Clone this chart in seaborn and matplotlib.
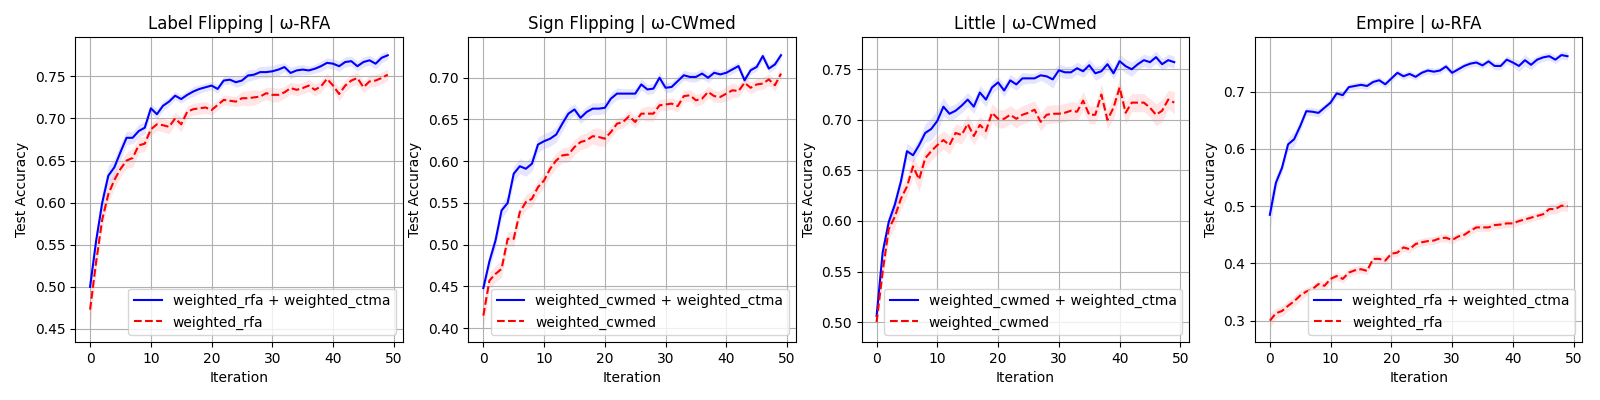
import matplotlib
matplotlib.use('Agg')
import matplotlib.pyplot as plt
import seaborn as sns
import numpy as np
import pandas as pd

# 迭代次数
iterations = list(range(50))

titles = ['Label Flipping | ω-RFA', 'Sign Flipping | ω-CWmed', 'Little | ω-CWmed', 'Empire | ω-RFA']
labels_ours = ['weighted_rfa + weighted_ctma', 'weighted_cwmed + weighted_ctma',
               'weighted_cwmed + weighted_ctma', 'weighted_rfa + weighted_ctma']
labels_base = ['weighted_rfa', 'weighted_cwmed', 'weighted_cwmed', 'weighted_rfa']

# Label Flipping
lf_ours = [0.500, 0.555, 0.600, 0.632, 0.642, 0.660, 0.677, 0.677, 0.685, 0.689,
           0.712, 0.705, 0.715, 0.720, 0.727, 0.723, 0.728, 0.732, 0.735, 0.737,
           0.739, 0.735, 0.745, 0.746, 0.743, 0.745, 0.751, 0.752, 0.755, 0.755,
           0.756, 0.758, 0.761, 0.754, 0.757, 0.758, 0.757, 0.759, 0.762, 0.766,
           0.765, 0.762, 0.767, 0.768, 0.762, 0.767, 0.769, 0.765, 0.772, 0.775]
lf_base = [0.473, 0.530, 0.580, 0.610, 0.627, 0.640, 0.650, 0.653, 0.668, 0.670,
           0.687, 0.693, 0.692, 0.690, 0.700, 0.693, 0.708, 0.711, 0.712, 0.713,
           0.710, 0.716, 0.722, 0.721, 0.720, 0.724, 0.724, 0.725, 0.726, 0.730,
           0.728, 0.728, 0.731, 0.736, 0.734, 0.736, 0.739, 0.734, 0.738, 0.747,
           0.739, 0.729, 0.739, 0.745, 0.748, 0.737, 0.744, 0.745, 0.748, 0.752]
lf_ours_sd = [0.006, 0.010, 0.012, 0.012, 0.010, 0.010, 0.008, 0.007, 0.008, 0.007,
              0.006, 0.006, 0.006, 0.005, 0.005, 0.005, 0.005, 0.006, 0.005, 0.005,
              0.005, 0.005, 0.005, 0.005, 0.006, 0.006, 0.007, 0.006, 0.007, 0.007,
              0.007, 0.007, 0.005, 0.007, 0.006, 0.006, 0.005, 0.005, 0.006, 0.006,
              0.006, 0.006, 0.006, 0.006, 0.006, 0.006, 0.006, 0.006, 0.006, 0.005]
lf_base_sd = [0.022, 0.012, 0.010, 0.010, 0.010, 0.009, 0.009, 0.011, 0.009, 0.009,
              0.007, 0.007, 0.008, 0.008, 0.007, 0.009, 0.007, 0.007, 0.007, 0.007,
              0.006, 0.006, 0.006, 0.006, 0.006, 0.008, 0.009, 0.009, 0.007, 0.007,
              0.009, 0.008, 0.007, 0.007, 0.007, 0.007, 0.007, 0.007, 0.007, 0.007,
              0.007, 0.008, 0.007, 0.007, 0.007, 0.007, 0.007, 0.007, 0.007, 0.007]

# Sign Flipping
sf_ours = [0.448, 0.480, 0.505, 0.541, 0.550, 0.585, 0.594, 0.591, 0.597, 0.620,
           0.624, 0.627, 0.632, 0.645, 0.657, 0.662, 0.652, 0.659, 0.663, 0.663,
           0.664, 0.675, 0.681, 0.681, 0.681, 0.681, 0.692, 0.686, 0.687, 0.700,
           0.688, 0.689, 0.696, 0.703, 0.701, 0.701, 0.705, 0.700, 0.706, 0.704,
           0.706, 0.710, 0.714, 0.697, 0.709, 0.713, 0.726, 0.711, 0.716, 0.727]
sf_base = [0.415, 0.457, 0.465, 0.471, 0.507, 0.507, 0.539, 0.551, 0.555, 0.569,
           0.577, 0.591, 0.601, 0.607, 0.608, 0.617, 0.623, 0.625, 0.630, 0.629,
           0.627, 0.635, 0.645, 0.647, 0.654, 0.647, 0.657, 0.657, 0.657, 0.667,
           0.668, 0.669, 0.666, 0.678, 0.679, 0.673, 0.675, 0.683, 0.678, 0.677,
           0.681, 0.685, 0.684, 0.694, 0.688, 0.692, 0.693, 0.698, 0.691, 0.705]
sf_ours_sd = [0.006, 0.009, 0.009, 0.009, 0.009, 0.009, 0.009, 0.009, 0.009, 0.009,
              0.009, 0.009, 0.009, 0.009, 0.007, 0.007, 0.007, 0.007, 0.007, 0.007,
              0.007, 0.007, 0.007, 0.006, 0.006, 0.006, 0.007, 0.006, 0.006, 0.007,
              0.006, 0.006, 0.006, 0.006, 0.006, 0.006, 0.006, 0.006, 0.005, 0.005,
              0.005, 0.005, 0.005, 0.005, 0.005, 0.005, 0.005, 0.005, 0.005, 0.005]
sf_base_sd = [0.015, 0.010, 0.010, 0.010, 0.009, 0.009, 0.009, 0.009, 0.009, 0.009,
              0.009, 0.009, 0.009, 0.009, 0.009, 0.009, 0.009, 0.009, 0.009, 0.011,
              0.009, 0.007, 0.007, 0.007, 0.007, 0.007, 0.007, 0.009, 0.009, 0.007,
              0.007, 0.007, 0.007, 0.007, 0.007, 0.007, 0.007, 0.007, 0.007, 0.007,
              0.009, 0.009, 0.007, 0.007, 0.007, 0.007, 0.007, 0.007, 0.007, 0.007]

# Little
li_ours = [0.506, 0.569, 0.599, 0.616, 0.639, 0.669, 0.665, 0.675, 0.687, 0.691,
           0.699, 0.713, 0.706, 0.709, 0.714, 0.720, 0.713, 0.727, 0.720, 0.732,
           0.737, 0.729, 0.739, 0.735, 0.741, 0.741, 0.741, 0.744, 0.743, 0.740,
           0.749, 0.747, 0.747, 0.751, 0.748, 0.754, 0.746, 0.748, 0.755, 0.746,
           0.758, 0.753, 0.750, 0.755, 0.759, 0.757, 0.762, 0.755, 0.759, 0.757]
li_base = [0.500, 0.550, 0.592, 0.604, 0.622, 0.634, 0.654, 0.641, 0.662, 0.669,
           0.675, 0.680, 0.675, 0.687, 0.685, 0.696, 0.684, 0.695, 0.689, 0.707,
           0.701, 0.701, 0.705, 0.701, 0.705, 0.707, 0.710, 0.698, 0.705, 0.706,
           0.706, 0.707, 0.709, 0.708, 0.719, 0.705, 0.705, 0.725, 0.700, 0.712,
           0.732, 0.707, 0.717, 0.717, 0.717, 0.712, 0.705, 0.709, 0.720, 0.717]
li_ours_sd = [0.006, 0.008, 0.008, 0.008, 0.008, 0.008, 0.007, 0.007, 0.009, 0.011,
              0.011, 0.009, 0.007, 0.007, 0.007, 0.007, 0.007, 0.007, 0.007, 0.006,
              0.006, 0.006, 0.006, 0.006, 0.006, 0.005, 0.005, 0.005, 0.007, 0.009,
              0.006, 0.006, 0.006, 0.006, 0.006, 0.006, 0.007, 0.006, 0.006, 0.006,
              0.007, 0.007, 0.007, 0.006, 0.006, 0.006, 0.006, 0.006, 0.006, 0.006]
li_base_sd = [0.006, 0.010, 0.010, 0.010, 0.010, 0.010, 0.010, 0.012, 0.009, 0.009,
              0.009, 0.009, 0.009, 0.009, 0.009, 0.009, 0.009, 0.009, 0.009, 0.009,
              0.009, 0.009, 0.009, 0.009, 0.009, 0.009, 0.009, 0.009, 0.009, 0.009,
              0.009, 0.009, 0.009, 0.009, 0.009, 0.009, 0.009, 0.011, 0.009, 0.011,
              0.009, 0.011, 0.009, 0.009, 0.009, 0.009, 0.011, 0.011, 0.009, 0.011]

# Empire
em_ours = [0.485, 0.541, 0.567, 0.608, 0.617, 0.640, 0.666, 0.665, 0.663, 0.672,
           0.681, 0.697, 0.694, 0.708, 0.710, 0.712, 0.710, 0.717, 0.720, 0.713,
           0.723, 0.733, 0.727, 0.731, 0.726, 0.733, 0.737, 0.735, 0.737, 0.744,
           0.733, 0.739, 0.745, 0.749, 0.751, 0.746, 0.753, 0.745, 0.745, 0.756,
           0.751, 0.745, 0.755, 0.747, 0.756, 0.760, 0.762, 0.756, 0.764, 0.762]
em_base = [0.300, 0.313, 0.317, 0.326, 0.334, 0.344, 0.351, 0.355, 0.364, 0.361,
           0.373, 0.378, 0.373, 0.384, 0.388, 0.390, 0.387, 0.408, 0.408, 0.405,
           0.417, 0.419, 0.428, 0.425, 0.434, 0.437, 0.439, 0.440, 0.444, 0.445,
           0.441, 0.447, 0.450, 0.457, 0.463, 0.463, 0.463, 0.467, 0.468, 0.470,
           0.470, 0.474, 0.477, 0.480, 0.483, 0.486, 0.495, 0.495, 0.501, 0.500]
em_ours_sd = [0.030, 0.012, 0.009, 0.011, 0.013, 0.009, 0.007, 0.007, 0.007, 0.007,
              0.007, 0.007, 0.007, 0.006, 0.006, 0.006, 0.006, 0.006, 0.006, 0.006,
              0.006, 0.006, 0.006, 0.006, 0.006, 0.006, 0.006, 0.006, 0.006, 0.006,
              0.006, 0.006, 0.006, 0.006, 0.006, 0.006, 0.006, 0.007, 0.007, 0.007,
              0.007, 0.010, 0.010, 0.009, 0.007, 0.007, 0.007, 0.007, 0.007, 0.007]
em_base_sd = [0.013, 0.009, 0.009, 0.009, 0.009, 0.009, 0.007, 0.007, 0.007, 0.007,
              0.007, 0.007, 0.007, 0.007, 0.007, 0.007, 0.007, 0.007, 0.007, 0.007,
              0.007, 0.007, 0.007, 0.007, 0.007, 0.007, 0.007, 0.007, 0.007, 0.007,
              0.007, 0.007, 0.007, 0.007, 0.007, 0.007, 0.007, 0.007, 0.007, 0.007,
              0.007, 0.007, 0.007, 0.007, 0.007, 0.007, 0.009, 0.009, 0.009, 0.009]

panels = [
    (lf_ours, lf_ours_sd, lf_base, lf_base_sd),
    (sf_ours, sf_ours_sd, sf_base, sf_base_sd),
    (li_ours, li_ours_sd, li_base, li_base_sd),
    (em_ours, em_ours_sd, em_base, em_base_sd),
]

plt.rcParams['font.family'] = ['DejaVu Sans']
fig, axes = plt.subplots(1, 4, figsize=(16, 4), dpi=100)

for k, ax in enumerate(axes):
    ours, ours_sd, base, base_sd = panels[k]
    df = pd.DataFrame({'Iteration': iterations, 'ours': ours, 'base': base})
    # 主曲线
    sns.lineplot(data=df, x='Iteration', y='ours', color='blue', label=labels_ours[k], ax=ax)
    sns.lineplot(data=df, x='Iteration', y='base', color='red', linestyle='--', label=labels_base[k], ax=ax)
    # 置信区间阴影
    o, os_ = np.array(ours), np.array(ours_sd)
    b, bs = np.array(base), np.array(base_sd)
    ax.fill_between(iterations, o - os_, o + os_, color='blue', alpha=0.1, linewidth=0)
    ax.fill_between(iterations, b - bs, b + bs, color='red', alpha=0.1, linewidth=0)
    ax.set_title(titles[k])
    ax.set_xlabel('Iteration')
    ax.set_ylabel('Test Accuracy')
    ax.set_xticks([0, 10, 20, 30, 40, 50])
    ax.grid(True)
    ax.legend(loc='lower right')

# 手动调整子图位置
plt.subplots_adjust(left=0.047, right=0.989, top=0.907, bottom=0.145, wspace=0.201)
plt.savefig('out.png')
